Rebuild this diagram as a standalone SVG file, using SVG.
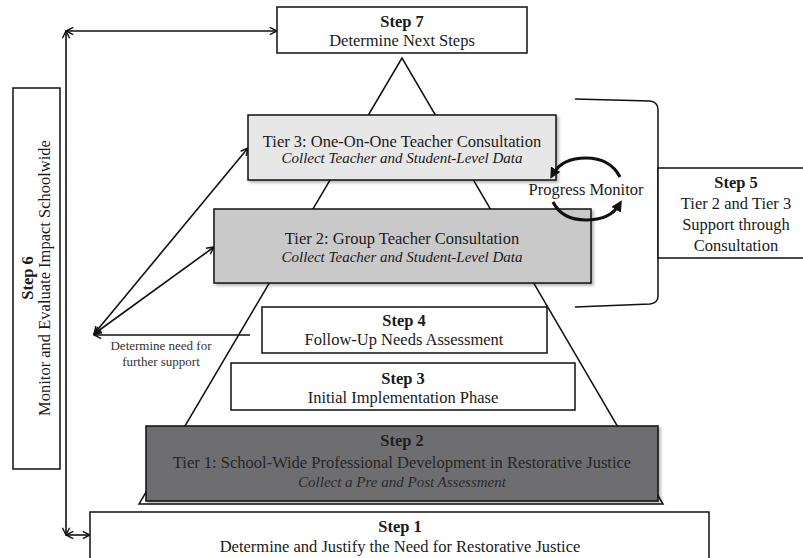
<svg xmlns="http://www.w3.org/2000/svg" width="803" height="558" viewBox="0 0 803 558">
<style>
  text { font-family: "Liberation Serif", "Times New Roman", serif; font-size: 16.5px; fill: #1a1a1a; text-anchor: middle; }
  .b { font-weight: bold; }
  .i { font-style: italic; font-size: 15px; }
  .sm { font-size: 13px; fill: #333; }
  .box { stroke: #111; stroke-width: 1.5; fill: #fff; }
  .ln { stroke: #111; stroke-width: 1.5; fill: none; }
  .arr { stroke: #111; stroke-width: 1.6; fill: none; marker-start: url(#oa); marker-end: url(#oa); }
  .cyc { stroke: #111; stroke-width: 3.2; fill: none; }
</style>
<defs>
  <marker id="oa" viewBox="0 0 10 10" refX="9" refY="5" markerWidth="9" markerHeight="9" markerUnits="userSpaceOnUse" orient="auto-start-reverse">
    <path d="M1,1 L9,5 L1,9" fill="none" stroke="#111" stroke-width="1.6"/>
  </marker>
  <marker id="fa" viewBox="0 0 10 10" refX="5" refY="5" markerWidth="11" markerHeight="11" markerUnits="userSpaceOnUse" orient="auto-start-reverse">
    <path d="M0,0 L10,5 L0,10 z" fill="#111"/>
  </marker>
  <filter id="sh" x="-5%" y="-10%" width="115%" height="130%">
    <feDropShadow dx="2" dy="2" stdDeviation="1.5" flood-color="#000" flood-opacity="0.3"/>
  </filter>
</defs>

<!-- pyramid -->
<g id="pyramid">
  <polygon points="402,58 139,504 663,504" fill="#fff" stroke="#111" stroke-width="1.5"/>
</g>

<!-- connectors -->
<g id="connectors">
  <line class="arr" x1="66" y1="31" x2="277" y2="31"/>
  <line class="arr" x1="66" y1="31" x2="66" y2="535"/>
  <line class="arr" x1="66" y1="535" x2="90" y2="535"/>
  <line x1="250" y1="335" x2="94" y2="335" class="ln" marker-end="url(#oa)"/>
  <line class="arr" x1="94" y1="334" x2="214" y2="247"/>
  <line class="arr" x1="94" y1="334" x2="248" y2="148"/>
  <path class="ln" d="M575,99 L650,101 Q658,102 658,110 L658,296 Q658,303 650,304 L575,307"/>
</g>

<g id="step7">
  <rect class="box" x="277" y="7" width="250" height="46"/>
  <text class="b" x="402" y="27">Step 7</text>
  <text x="402" y="46">Determine Next Steps</text>
</g>

<g id="step6">
  <rect class="box" x="13" y="88" width="47" height="381"/>
  <text class="b" transform="translate(33,278) rotate(-90)">Step 6</text>
  <text transform="translate(50,278) rotate(-90)">Monitor and Evaluate Impact Schoolwide</text>
</g>

<g id="tier3">
  <rect class="box" x="248" y="115" width="308" height="65" fill="#e7e7e7" style="fill:#e7e7e7" filter="url(#sh)"/>
  <text x="402" y="147">Tier 3: One-On-One Teacher Consultation</text>
  <text class="i" x="402" y="163">Collect Teacher and Student-Level Data</text>
</g>

<g id="tier2">
  <rect class="box" x="214" y="209" width="377" height="74" style="fill:#c9c9c9" filter="url(#sh)"/>
  <text x="402" y="244">Tier 2: Group Teacher Consultation</text>
  <text class="i" x="402" y="262">Collect Teacher and Student-Level Data</text>
</g>

<g id="progress">
  <text x="586" y="195">Progress Monitor</text>
  <path class="cyc" d="M620,177 Q610,158 586,158 Q562,158 553,174" marker-end="url(#fa)"/>
  <path class="cyc" d="M553,202 Q562,220 586,220 Q610,220 619,205" marker-end="url(#fa)"/>
</g>

<g id="step5">
  <rect class="box" x="658" y="168" width="150" height="90"/>
  <text class="b" x="736" y="188">Step 5</text>
  <text x="736" y="209">Tier 2 and Tier 3</text>
  <text x="736" y="230">Support through</text>
  <text x="736" y="251">Consultation</text>
</g>

<g id="step4">
  <rect class="box" x="262" y="307" width="285" height="46"/>
  <text class="b" x="404" y="326">Step 4</text>
  <text x="404" y="345">Follow-Up Needs Assessment</text>
</g>

<g id="note">
  <text class="sm" x="161" y="350">Determine need for</text>
  <text class="sm" x="161" y="366">further support</text>
</g>

<g id="step3">
  <rect class="box" x="231" y="363" width="344" height="47"/>
  <text class="b" x="403" y="384">Step 3</text>
  <text x="403" y="403">Initial Implementation Phase</text>
</g>

<g id="step2">
  <rect class="box" x="146" y="426" width="512" height="75" style="fill:#6e6e70" filter="url(#sh)"/>
  <text class="b" x="402" y="446" style="fill:#1e1e1e">Step 2</text>
  <text x="402" y="468" style="fill:#262626">Tier 1: School-Wide Professional Development in Restorative Justice</text>
  <text class="i" x="402" y="487" style="fill:#2a2a2a">Collect a Pre and Post Assessment</text>
</g>

<g id="step1">
  <rect class="box" x="90" y="512" width="619" height="60"/>
  <text class="b" x="400" y="532">Step 1</text>
  <text x="400" y="552">Determine and Justify the Need for Restorative Justice</text>
</g>
</svg>
